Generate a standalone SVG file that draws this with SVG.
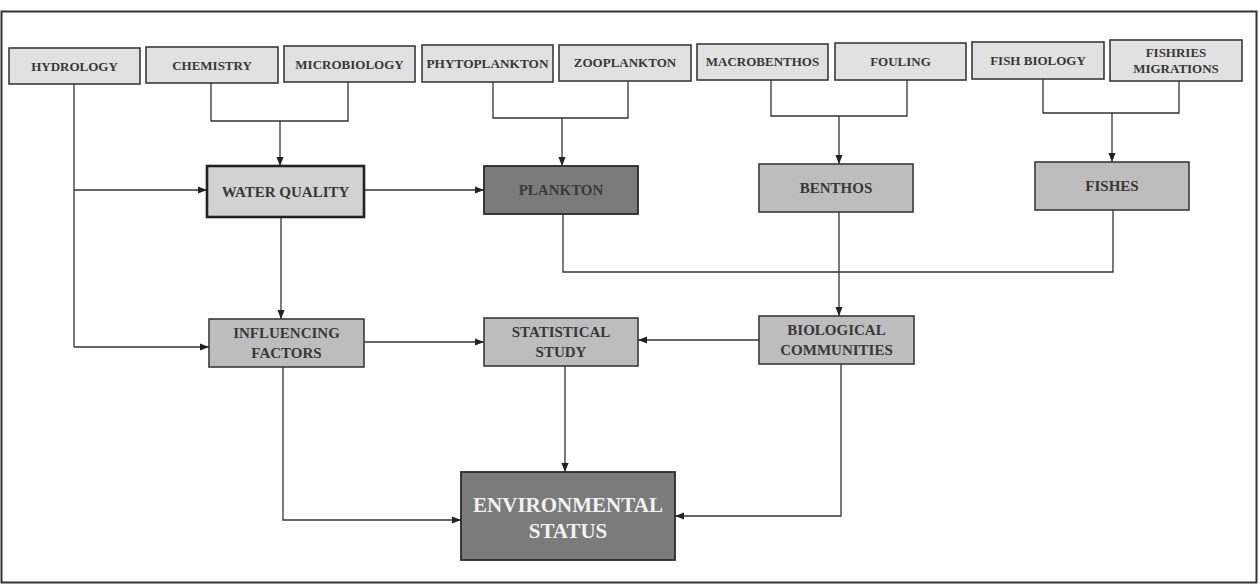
<svg xmlns="http://www.w3.org/2000/svg" width="1260" height="584" viewBox="0 0 1260 584">
<defs>
<marker id="ah" viewBox="0 0 10 10" refX="10" refY="5" markerWidth="9" markerHeight="9" orient="auto" markerUnits="userSpaceOnUse">
<path d="M0,1 L10,5 L0,9 Z" fill="#222"/>
</marker>
<style>
.top{fill:#e1e1e1;stroke:#3a3a3a;stroke-width:1.6}
.mid{fill:#bdbdbd;stroke:#3a3a3a;stroke-width:1.6}
.lt{fill:#d2d2d2;stroke:#222;stroke-width:2.6}
.dk{fill:#7b7b7b;stroke:#2a2a2a;stroke-width:1.8}
.t{font-family:"Liberation Serif",serif;font-weight:bold;fill:#383838;text-anchor:middle}
.ts{font-size:13px}
.tm{font-size:15px}
.tw{font-family:"Liberation Serif",serif;font-weight:bold;fill:#f2f2f2;text-anchor:middle;font-size:21px}
.c{fill:none;stroke:#333;stroke-width:1.3}
.ca{fill:none;stroke:#333;stroke-width:1.3;marker-end:url(#ah)}
</style>
</defs>
<rect x="0" y="0" width="1260" height="584" fill="#fff"/>
<rect x="1.5" y="11.5" width="1255" height="571" fill="none" stroke="#333" stroke-width="2"/>

<g id="connectors">
<path class="c" d="M211,83 V121 H348 V82"/>
<path class="ca" d="M280,121 V166"/>
<path class="c" d="M74,84 V347"/>
<path class="ca" d="M74,190 H207"/>
<path class="ca" d="M74,347 H209"/>
<path class="ca" d="M364,190 H484"/>
<path class="c" d="M493,82 V118 H628 V81"/>
<path class="ca" d="M562,118 V166"/>
<path class="c" d="M771,80 V116 H907 V80"/>
<path class="ca" d="M839,116 V164"/>
<path class="c" d="M1043,79 V113 H1179 V81"/>
<path class="ca" d="M1112,113 V162"/>
<path class="c" d="M563,214 V272 H1113 V210"/>
<path class="ca" d="M839,212 V316"/>
<path class="ca" d="M281,217 V319"/>
<path class="ca" d="M364,342 H484"/>
<path class="ca" d="M759,340 H638"/>
<path class="ca" d="M565,366 V472"/>
<path class="ca" d="M283,367 V520 H461"/>
<path class="ca" d="M841,364 V516 H675"/>
</g>

<g id="hydrology"><rect class="top" x="9" y="48" width="131" height="36"/><text class="t ts" x="74.5" y="71">HYDROLOGY</text></g>
<g id="chemistry"><rect class="top" x="146" y="47" width="132" height="36"/><text class="t ts" x="212" y="70">CHEMISTRY</text></g>
<g id="microbiology"><rect class="top" x="284" y="46" width="131" height="36"/><text class="t ts" x="349.5" y="69">MICROBIOLOGY</text></g>
<g id="phytoplankton"><rect class="top" x="422" y="45" width="131" height="37"/><text class="t ts" x="487.5" y="68" textLength="122" lengthAdjust="spacingAndGlyphs">PHYTOPLANKTON</text></g>
<g id="zooplankton"><rect class="top" x="559" y="45" width="132" height="36"/><text class="t ts" x="625" y="67">ZOOPLANKTON</text></g>
<g id="macrobenthos"><rect class="top" x="697" y="44" width="131" height="36"/><text class="t ts" x="762.5" y="66">MACROBENTHOS</text></g>
<g id="fouling"><rect class="top" x="835" y="43" width="131" height="37"/><text class="t ts" x="900.5" y="66">FOULING</text></g>
<g id="fish-biology"><rect class="top" x="972" y="42" width="132" height="37"/><text class="t ts" x="1038" y="65">FISH BIOLOGY</text></g>
<g id="fishries-migrations"><rect class="top" x="1110" y="40" width="132" height="41"/><text class="t ts" x="1176" y="57">FISHRIES</text><text class="t ts" x="1176" y="73">MIGRATIONS</text></g>

<g id="water-quality"><rect class="lt" x="207" y="166" width="157" height="51"/><text class="t tm" x="285.5" y="197">WATER QUALITY</text></g>
<g id="plankton"><rect class="dk" x="484" y="166" width="154" height="48"/><text class="t tm" x="561" y="195">PLANKTON</text></g>
<g id="benthos"><rect class="mid" x="759" y="164" width="154" height="48"/><text class="t tm" x="836" y="193">BENTHOS</text></g>
<g id="fishes"><rect class="mid" x="1035" y="162" width="154" height="48"/><text class="t tm" x="1112" y="191">FISHES</text></g>

<g id="influencing-factors"><rect class="mid" x="209" y="319" width="155" height="48"/><text class="t tm" x="286.5" y="338">INFLUENCING</text><text class="t tm" x="286.5" y="358">FACTORS</text></g>
<g id="statistical-study"><rect class="mid" x="484" y="318" width="154" height="48"/><text class="t tm" x="561" y="337">STATISTICAL</text><text class="t tm" x="561" y="357">STUDY</text></g>
<g id="biological-communities"><rect class="mid" x="759" y="316" width="155" height="48"/><text class="t tm" x="836.5" y="335">BIOLOGICAL</text><text class="t tm" x="836.5" y="355">COMMUNITIES</text></g>

<g id="environmental-status"><rect class="dk" x="461" y="472" width="214" height="88"/><text class="tw" x="568" y="512">ENVIRONMENTAL</text><text class="tw" x="568" y="538">STATUS</text></g>
</svg>
